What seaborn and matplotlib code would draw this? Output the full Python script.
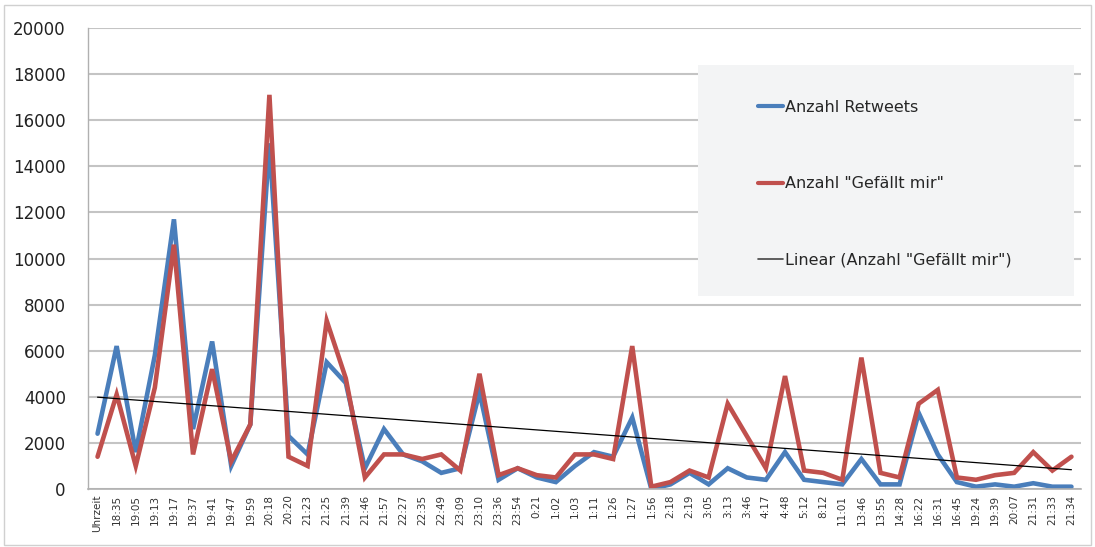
import numpy as np
import pandas as pd
import matplotlib
matplotlib.use("Agg")
import matplotlib.pyplot as plt
from matplotlib.patches import Rectangle
from matplotlib.lines import Line2D
import seaborn as sns

times = ["Uhrzeit", "18:35", "19:05", "19:13", "19:17", "19:37", "19:41", "19:47", "19:59",
         "20:18", "20:20", "21:23", "21:25", "21:39", "21:46", "21:57", "22:27", "22:35",
         "22:49", "23:09", "23:10", "23:36", "23:54", "0:21", "1:02", "1:03", "1:11", "1:26",
         "1:27", "1:56", "2:18", "2:19", "3:05", "3:13", "3:46", "4:17", "4:48", "5:12",
         "8:12", "11:01", "13:46", "13:55", "14:28", "16:22", "16:31", "16:45", "19:24",
         "19:39", "20:07", "21:31", "21:33", "21:34"]

retweets = [2400, 6200, 1600, 5800, 11700, 2600, 6400, 1000, 2800, 15000, 2300, 1500,
            5500, 4600, 900, 2600, 1500, 1200, 700, 900, 4200, 400, 900, 500, 300, 1000,
            1600, 1400, 3100, 0, 200, 700, 200, 900, 500, 400, 1600, 400, 300, 200, 1300,
            200, 200, 3300, 1500, 300, 100, 200, 100, 250, 100, 100]

gefaellt = [1400, 4100, 1000, 4400, 10600, 1500, 5200, 1200, 2800, 17100, 1400, 1000,
            7300, 4800, 500, 1500, 1500, 1300, 1500, 800, 5000, 600, 900, 600, 500, 1500,
            1500, 1300, 6200, 100, 300, 800, 500, 3700, 2300, 900, 4900, 800, 700, 400, 5700,
            700, 500, 3700, 4300, 500, 400, 600, 700, 1600, 800, 1400]

yticks = [0, 2000, 4000, 6000, 8000, 10000, 12000, 14000, 16000, 18000, 20000]

label_rt = "Anzahl Retweets"
label_gf = 'Anzahl "Gefällt mir"'
label_tr = 'Linear (Anzahl "Gefällt mir")'

sns.set_theme(style="white")
plt.rcParams['font.family'] = ['DejaVu Sans']

df = pd.DataFrame({"idx": np.arange(len(times)), "rt": retweets, "gf": gefaellt})

fig = plt.figure(figsize=(10.95, 5.47), dpi=100)
fig.patch.set_facecolor("white")
ax = fig.add_axes([88/1095, 1 - 489/547, 993/1095, 461/547])

blue = "#4A7EBB"
red = "#C0504D"

sns.lineplot(data=df, x="idx", y="rt", ax=ax, color=blue, linewidth=3.3, label=label_rt,
             solid_joinstyle="miter")
sns.lineplot(data=df, x="idx", y="gf", ax=ax, color=red, linewidth=3.3, label=label_gf,
             solid_joinstyle="miter")

# linear trend of "Gefällt mir"
coef = np.polyfit(df["idx"], df["gf"], 1)
trend = np.polyval(coef, df["idx"])
ax.plot(df["idx"], trend, color="black", linewidth=0.9, label=label_tr)

ax.set_xlim(-0.5, len(times) - 0.5)
ax.set_ylim(0, 20000)
ax.set_yticks(yticks)
ax.set_yticklabels([str(v) for v in yticks], fontsize=12, color="#222222")
ax.set_xticks(np.arange(len(times)))
ax.set_xticklabels(times, rotation=90, fontsize=7.5, color="#333333")
ax.set_xticks(np.arange(-0.5, len(times)), minor=True)
ax.tick_params(axis="x", which="major", length=0, pad=4)
ax.tick_params(axis="x", which="minor", length=4, color="#b0b0b0", width=1, direction="out")
ax.tick_params(axis="y", length=6, color="#b0b0b0", width=1, direction="out", pad=10)
ax.set_xlabel("")
ax.set_ylabel("")

ax.yaxis.grid(True, color="#c4c4c4", linewidth=1.5)
ax.set_axisbelow(True)
for s in ["top", "right"]:
    ax.spines[s].set_visible(False)
ax.spines["left"].set_color("#b0b0b0")
ax.spines["bottom"].set_color("#b0b0b0")
ax.spines["left"].set_linewidth(1)
ax.spines["bottom"].set_linewidth(1.2)

# legend background box
rect = Rectangle((0.614, 0.419), 0.379, 0.501, transform=ax.transAxes,
                 facecolor="#f3f4f5", edgecolor="none", zorder=3)
ax.add_patch(rect)
handles = [Line2D([0], [0], color=blue, linewidth=3),
           Line2D([0], [0], color=red, linewidth=3),
           Line2D([0], [0], color="#444444", linewidth=1.2)]
leg = ax.legend(handles, [label_rt, label_gf, label_tr], loc="upper left",
                bbox_to_anchor=(0.66, 0.875), frameon=False, fontsize=11.5,
                labelspacing=3.85, handlelength=1.6, handletextpad=0.1)
leg.set_zorder(4)

# outer chart frame
fig.add_artist(Rectangle((0.004, 0.004), 0.992, 0.986, transform=fig.transFigure,
                         fill=False, edgecolor="#d0d0d0", linewidth=1))

fig.savefig("out.png", dpi=100)
